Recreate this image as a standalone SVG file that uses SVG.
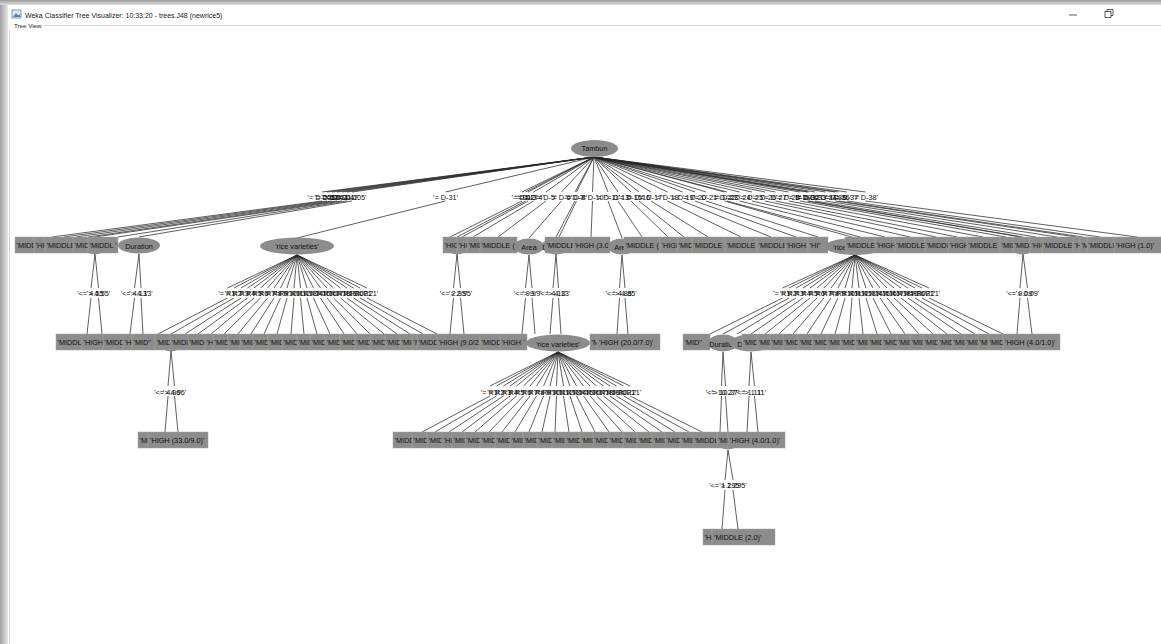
<svg xmlns="http://www.w3.org/2000/svg" width="1161" height="644" viewBox="0 0 1161 644">
<style>
  .n rect { fill:#8c8c8c; stroke:#a2a2a2; stroke-width:0.5; }
  .n ellipse { fill:#8c8c8c; }
  .n text { font-family:"Liberation Sans", Arial, sans-serif; font-size:7.3px; fill:#111; }
  .n .c { text-anchor:middle; }
  .e path { fill:none; stroke:#2a2a2a; stroke-width:0.75; }
  .el text { font-family:"Liberation Sans", Arial, sans-serif; font-size:7.3px; fill:#111; text-anchor:middle; }
  .chrome { font-family:"Liberation Sans", Arial, sans-serif; fill:#222; }
</style>
<defs>
  <linearGradient id="topShade" x1="0" y1="0" x2="0" y2="1">
    <stop offset="0" stop-color="#9c9c9c"/>
    <stop offset="1" stop-color="#dedede"/>
  </linearGradient>
  <linearGradient id="leftShade" x1="0" y1="0" x2="1" y2="0">
    <stop offset="0" stop-color="#a0a0a0"/>
    <stop offset="1" stop-color="#e6e6e6"/>
  </linearGradient>
</defs>

<!-- window frame -->
<rect x="0" y="0" width="1161" height="644" fill="#ffffff"/>
<rect x="0" y="0" width="1161" height="5" fill="url(#topShade)"/>
<rect x="0" y="5" width="8" height="639" fill="url(#leftShade)"/>
<line x1="9.5" y1="30" x2="9.5" y2="644" stroke="#d4d4d4" stroke-width="1"/>
<line x1="44" y1="25.5" x2="1161" y2="25.5" stroke="#d8d8d8" stroke-width="1"/>
<g id="title-icon">
  <rect x="12" y="10" width="9" height="8" fill="#dfe8f2" stroke="#6d89a8" stroke-width="0.8"/>
  <path d="M13 17 L16 13 L18 15.5 L20 14 L20.5 17 Z" fill="#5a7fa6"/>
</g>
<text class="chrome" x="25" y="17.5" font-size="7px">Weka Classifier Tree Visualizer: 10:33:20 - trees.J48 (newrice5)</text>
<text class="chrome" x="14" y="27.5" font-size="6.2px">Tree View</text>
<line x1="1069" y1="15" x2="1077" y2="15" stroke="#333" stroke-width="0.8"/>
<rect x="1105" y="11.5" width="6" height="6" fill="none" stroke="#333" stroke-width="0.8"/>
<path d="M1107 11.5 V9.5 H1113 V15.5 H1111" fill="none" stroke="#333" stroke-width="0.8"/>

<!-- connectors -->
<g id="connectors">
<g class="e">
  <!-- root: Tambun -->
  <path d="M594 157L322 192M322 201L52 237 M594 157L327 192M327 201L64 237 M594 157L332 192M332 201L76 237 M594 157L337 192M337 201L88 237 M594 157L342 192M342 201L95 237 M594 157L347 192M347 201L118 237 M594 157L352 192M352 201L139 237 M594 157L445.5 192M445.5 201L297 238
  M594 157L522 192M522 201L450 237 M594 157L525.5 192M525.5 201L457 237 M594 157L528 192M528 201L462 237 M594 157L533.5 192M533.5 201L473 237 M594 157L546 192M546 201L498 237 M594 157L561.5 192M561.5 201L529 238 M594 157L575 192M575 201L556 237 M594 157L576.5 192M576.5 201L559 237 M594 157L592.5 192M592.5 201L591 237 M594 157L608 192M608 201L622 238 M594 157L618 192M618 201L642 237 M594 157L631 192M631 201L668 237 M594 157L639 192M639 201L684 237 M594 157L651 192M651 201L708 237 M594 157L667.5 192M667.5 201L741 237 M594 157L682.5 192M682.5 201L771 237 M594 157L695 192M695 201L796 237 M594 157L706 192M706 201L818 237 M594 157L724.5 192M724.5 201L855 238 M594 157L727 192M727 201L860 237 M594 157L739.5 192M739.5 201L885 237 M594 157L752 192M752 201L910 237 M594 157L765 192M765 201L936 237 M594 157L775.5 192M775.5 201L957 237 M594 157L788.5 192M788.5 201L983 237 M594 157L800 192M800 201L1006 237 M594 157L807.5 192M807.5 201L1021 237 M594 157L808.5 192M808.5 201L1023 237 M594 157L815 192M815 201L1036 237 M594 157L825.5 192M825.5 201L1057 237 M594 157L835 192M835 201L1076 237 M594 157L838.5 192M838.5 201L1083 237 M594 157L847 192M847 201L1100 237 M594 157L865.5 192M865.5 201L1137 237"/>
  <!-- level 1 numeric splits -->
  <path d="M95 254L91 288M91 298L87 334 M95 254L98.5 288M98.5 298L102 334
  M139 254L134.5 288M134.5 298L130 334 M139 254L141 288M141 298L143 334
  M457 254L453.5 288M453.5 298L450 334 M457 254L460.5 288M460.5 298L464 334
  M529 255L525.5 288M525.5 298L522 334 M529 255L532 288M532 298L535 334
  M556 254L553 288M553 298L550 334 M556 254L558.5 288M558.5 298L561 334
  M622 255L619.5 288M619.5 298L617 334 M622 255L625 288M625 298L628 334
  M1023 254L1020 288M1020 298L1017 334 M1023 254L1027.5 288M1027.5 298L1032 334"/>
  <!-- level 1 'rice varieties' (left) -->
  <path d="M297 255L227.5 288M227.5 298L158 334 M297 255L234 288M234 298L171 334 M297 255L241 288M241 298L185 334 M297 255L247.5 288M247.5 298L198 334 M297 255L254 288M254 298L211 334 M297 255L260.5 288M260.5 298L224 334 M297 255L267.5 288M267.5 298L238 334 M297 255L274 288M274 298L251 334 M297 255L280.5 288M280.5 298L264 334 M297 255L287 288M287 298L277 334 M297 255L294 288M294 298L291 334 M297 255L300.5 288M300.5 298L304 334 M297 255L307 288M307 298L317 334 M297 255L313.5 288M313.5 298L330 334 M297 255L320.5 288M320.5 298L344 334 M297 255L327 288M327 298L357 334 M297 255L333.5 288M333.5 298L370 334 M297 255L340.5 288M340.5 298L384 334 M297 255L347 288M347 298L397 334 M297 255L353.5 288M353.5 298L410 334 M297 255L360 288M360 298L423 334 M297 255L367 288M367 298L437 334"/>
  <!-- level 1 'rice varieties' (right) -->
  <path d="M855 255L782.5 288M782.5 298L710 334 M855 255L789 288M789 298L723 334 M855 255L796 288M796 298L737 334 M855 255L803 288M803 298L751 334 M855 255L810 288M810 298L765 334 M855 255L817 288M817 298L779 334 M855 255L824 288M824 298L793 334 M855 255L831 288M831 298L807 334 M855 255L838 288M838 298L821 334 M855 255L845 288M845 298L835 334 M855 255L852 288M852 298L849 334 M855 255L859 288M859 298L863 334 M855 255L866 288M866 298L877 334 M855 255L873 288M873 298L891 334 M855 255L880 288M880 298L905 334 M855 255L887 288M887 298L919 334 M855 255L894 288M894 298L933 334 M855 255L901 288M901 298L947 334 M855 255L908 288M908 298L961 334 M855 255L915 288M915 298L975 334 M855 255L922 288M922 298L989 334 M855 255L929 288M929 298L1003 334"/>
  <!-- level 2 numeric splits -->
  <path d="M171 351L168 386M168 396L165 432 M171 351L174.5 386M174.5 396L178 432
  M723 352L721.5 386M721.5 396L720 432 M723 352L725.5 386M725.5 396L728 432
  M751 352L749 386M749 396L747 432 M751 352L754.5 386M754.5 396L758 432"/>
  <!-- level 2 'rice varieties' -->
  <path d="M558 352L490 386M490 396L422 432 M558 352L496.5 386M496.5 396L435 432 M558 352L503.5 386M503.5 396L449 432 M558 352L510 386M510 396L462 432 M558 352L516.5 386M516.5 396L475 432 M558 352L523.5 386M523.5 396L489 432 M558 352L530 386M530 396L502 432 M558 352L536.5 386M536.5 396L515 432 M558 352L543.5 386M543.5 396L529 432 M558 352L550 386M550 396L542 432 M558 352L556.5 386M556.5 396L555 432 M558 352L563.5 386M563.5 396L569 432 M558 352L570 386M570 396L582 432 M558 352L576.5 386M576.5 396L595 432 M558 352L583.5 386M583.5 396L609 432 M558 352L590 386M590 396L622 432 M558 352L596.5 386M596.5 396L635 432 M558 352L603.5 386M603.5 396L649 432 M558 352L610 386M610 396L662 432 M558 352L616.5 386M616.5 396L675 432 M558 352L623.5 386M623.5 396L689 432 M558 352L630 386M630 396L702 432"/>
  <!-- level 3 numeric split -->
  <path d="M728 450L725 480M725 490L722 529 M728 450L733 480M733 490L738 529"/>
</g>
<g class="el">
  <text x="322" y="199.5">'= D-205'</text><text x="327" y="199.5">'= D-12'</text><text x="332" y="199.5">'= D-9'</text><text x="337" y="199.5">'= D-14'</text><text x="342" y="199.5">'= D-211'</text><text x="347" y="199.5">'= D-47'</text><text x="352" y="199.5">'= D-105'</text>
  <text x="445.5" y="199.5">'= D-31'</text>
  <text x="522" y="199.5">'= D-1'</text><text x="525.5" y="199.5">'= D-2'</text><text x="528" y="199.5">'= D-3'</text><text x="533.5" y="199.5">'= D-4'</text><text x="546" y="199.5">'= D-5'</text><text x="561.5" y="199.5">'= D-6'</text><text x="575" y="199.5">'= D-7'</text><text x="576.5" y="199.5">'= D-8'</text><text x="592.5" y="199.5">'= D-10'</text><text x="608" y="199.5">'= D-11'</text><text x="618" y="199.5">'= D-13'</text><text x="631" y="199.5">'= D-15'</text><text x="639" y="199.5">'= D-16'</text><text x="651" y="199.5">'= D-17'</text><text x="667.5" y="199.5">'= D-18'</text><text x="682.5" y="199.5">'= D-19'</text><text x="695" y="199.5">'= D-20'</text><text x="706" y="199.5">'= D-21'</text><text x="724.5" y="199.5">'= D-22'</text><text x="727" y="199.5">'= D-23'</text><text x="739.5" y="199.5">'= D-24'</text><text x="752" y="199.5">'= D-25'</text><text x="765" y="199.5">'= D-26'</text><text x="775.5" y="199.5">'= D-27'</text><text x="788.5" y="199.5">'= D-28'</text><text x="800" y="199.5">'= D-29'</text><text x="807.5" y="199.5">'= D-30'</text><text x="808.5" y="199.5">'= D-32'</text><text x="815" y="199.5">'= D-33'</text><text x="825.5" y="199.5">'= D-34'</text><text x="835" y="199.5">'= D-35'</text><text x="838.5" y="199.5">'= D-36'</text><text x="847" y="199.5">'= D-37'</text><text x="865.5" y="199.5">'= D-38'</text>

  <text x="91" y="296">'&lt;= 4.55'</text><text x="98.5" y="296">'&gt; 4.55'</text>
  <text x="134.5" y="296">'&lt;= 4.13'</text><text x="141" y="296">'&gt; 4.13'</text>
  <text x="453.5" y="296">'&lt;= 2.95'</text><text x="460.5" y="296">'&gt; 2.95'</text>
  <text x="525.5" y="296">'&lt;= 9.9'</text><text x="532" y="296">'&gt; 9.9'</text>
  <text x="553" y="296">'&lt;= 4.13'</text><text x="558.5" y="296">'&gt; 4.13'</text>
  <text x="619.5" y="296">'&lt;= 4.85'</text><text x="625" y="296">'&gt; 4.85'</text>
  <text x="1020" y="296">'&lt;= 0.09'</text><text x="1027.5" y="296">'&gt; 0.09'</text>

  <text x="227.5" y="296">'= R1'</text><text x="234" y="296">'= R2'</text><text x="241" y="296">'= R3'</text><text x="247.5" y="296">'= R4'</text><text x="254" y="296">'= R5'</text><text x="260.5" y="296">'= R6'</text><text x="267.5" y="296">'= R7'</text><text x="274" y="296">'= R8'</text><text x="280.5" y="296">'= R9'</text><text x="287" y="296">'= R10'</text><text x="294" y="296">'= R11'</text><text x="300.5" y="296">'= R12'</text><text x="307" y="296">'= R13'</text><text x="313.5" y="296">'= R14'</text><text x="320.5" y="296">'= R15'</text><text x="327" y="296">'= R16'</text><text x="333.5" y="296">'= R17'</text><text x="340.5" y="296">'= R18'</text><text x="347" y="296">'= R19'</text><text x="353.5" y="296">'= R20'</text><text x="360" y="296">'= R021'</text><text x="367" y="296">'= R21'</text>

  <text x="782.5" y="296">'= R1'</text><text x="789" y="296">'= R2'</text><text x="796" y="296">'= R3'</text><text x="803" y="296">'= R4'</text><text x="810" y="296">'= R5'</text><text x="817" y="296">'= R6'</text><text x="824" y="296">'= R7'</text><text x="831" y="296">'= R8'</text><text x="838" y="296">'= R9'</text><text x="845" y="296">'= R10'</text><text x="852" y="296">'= R11'</text><text x="859" y="296">'= R12'</text><text x="866" y="296">'= R13'</text><text x="873" y="296">'= R14'</text><text x="880" y="296">'= R15'</text><text x="887" y="296">'= R16'</text><text x="894" y="296">'= R17'</text><text x="901" y="296">'= R18'</text><text x="908" y="296">'= R19'</text><text x="915" y="296">'= R20'</text><text x="922" y="296">'= R021'</text><text x="929" y="296">'= R21'</text>

  <text x="168" y="394.5">'&lt;= 4.96'</text><text x="174.5" y="394.5">'&gt; 4.96'</text>
  <text x="721.5" y="394.5">'&lt;= 10.27'</text><text x="725.5" y="394.5">'&gt; 10.27'</text>
  <text x="749" y="394.5">'&lt;= 1.11'</text><text x="754.5" y="394.5">'&gt; 1.11'</text>

  <text x="490" y="394.5">'= R1'</text><text x="496.5" y="394.5">'= R2'</text><text x="503.5" y="394.5">'= R3'</text><text x="510" y="394.5">'= R4'</text><text x="516.5" y="394.5">'= R5'</text><text x="523.5" y="394.5">'= R6'</text><text x="530" y="394.5">'= R7'</text><text x="536.5" y="394.5">'= R8'</text><text x="543.5" y="394.5">'= R9'</text><text x="550" y="394.5">'= R10'</text><text x="556.5" y="394.5">'= R11'</text><text x="563.5" y="394.5">'= R12'</text><text x="570" y="394.5">'= R13'</text><text x="576.5" y="394.5">'= R14'</text><text x="583.5" y="394.5">'= R15'</text><text x="590" y="394.5">'= R16'</text><text x="596.5" y="394.5">'= R17'</text><text x="603.5" y="394.5">'= R18'</text><text x="610" y="394.5">'= R19'</text><text x="616.5" y="394.5">'= R20'</text><text x="623.5" y="394.5">'= R021'</text><text x="630" y="394.5">'= R21'</text>

  <text x="725" y="487.5">'&lt;= 1.295'</text><text x="733" y="487.5">'&gt; 1.295'</text>
</g>
</g>

<!-- root -->
<g id="root" class="n"><ellipse cx="594.5" cy="148.5" rx="23.5" ry="8.5"/><text class="c" x="594.5" y="151">Tambun</text></g>

<!-- level 1 -->
<g id="level1">
<g id="l1-a" class="n"><ellipse cx="95" cy="246" rx="12" ry="8.5"/></g>
<g id="l1-b" class="n"><ellipse cx="457" cy="246" rx="12" ry="8.5"/></g>
<g id="l1-d" class="n"><ellipse cx="1023" cy="246" rx="12" ry="8.5"/></g>
<g id="l1-01" class="n"><rect x="15" y="237" width="19" height="16"/><text x="16.5" y="247.5">'MIDDL</text></g>
<g id="l1-02" class="n"><rect x="34" y="237" width="11" height="16"/><text x="35.5" y="247.5">'HIG</text></g>
<g id="l1-03" class="n"><rect x="45" y="237" width="28" height="16"/><text x="46.5" y="247.5">'MIDDLE</text></g>
<g id="l1-04" class="n"><rect x="73" y="237" width="15" height="16"/><text x="74.5" y="247.5">'MIDD</text></g>
<g id="l1-05" class="n"><rect x="88" y="237" width="30" height="16"/><text x="89.5" y="247.5">'MIDDL '</text></g>
<g id="l1-06" class="n"><ellipse cx="139" cy="245.5" rx="21" ry="8"/><text class="c" x="139" y="248.5">Duration</text></g>
<g id="l1-07" class="n"><ellipse cx="297" cy="246" rx="37" ry="8.5"/><text class="c" x="297" y="249">'rice varieties'</text></g>
<g id="l1-08" class="n"><rect x="443" y="237" width="14" height="16"/><text x="444.5" y="247.5">'HIGH</text></g>
<g id="l1-09" class="n"><rect x="457" y="237" width="10" height="16"/><text x="458.5" y="247.5">'HI</text></g>
<g id="l1-10" class="n"><rect x="467" y="237" width="13" height="16"/><text x="468.5" y="247.5">'MID</text></g>
<g id="l1-11" class="n"><rect x="480" y="237" width="37" height="16"/><text x="481.5" y="247.5">'MIDDLE (2</text></g>
<g id="l1-12" class="n"><ellipse cx="529" cy="246.5" rx="15" ry="8"/><text class="c" x="529" y="250">Area</text></g>
<g id="l1-13" class="n"><ellipse cx="556" cy="246" rx="14" ry="8.5"/><text class="c" x="556" y="249.5">Duration</text></g>
<g id="l1-14" class="n"><rect x="545" y="237" width="28" height="16"/><text x="546.5" y="247.5">'MIDDLE</text></g>
<g id="l1-15" class="n"><rect x="573" y="237" width="37" height="16"/><text x="574.5" y="247.5">'HIGH (3.0/1</text></g>
<g id="l1-16" class="n"><ellipse cx="622" cy="246.5" rx="14" ry="8"/><text class="c" x="622" y="250">Area</text></g>
<g id="l1-17" class="n"><rect x="624" y="237" width="36" height="16"/><text x="625.5" y="247.5">'MIDDLE (</text></g>
<g id="l1-18" class="n"><rect x="660" y="237" width="17" height="16"/><text x="661.5" y="247.5">'HIGH</text></g>
<g id="l1-19" class="n"><rect x="677" y="237" width="15" height="16"/><text x="678.5" y="247.5">'MIDD</text></g>
<g id="l1-20" class="n"><rect x="692" y="237" width="33" height="16"/><text x="693.5" y="247.5">'MIDDLE (3</text></g>
<g id="l1-21" class="n"><rect x="725" y="237" width="32" height="16"/><text x="726.5" y="247.5">'MIDDLE</text></g>
<g id="l1-22" class="n"><rect x="757" y="237" width="28" height="16"/><text x="758.5" y="247.5">'MIDDLE</text></g>
<g id="l1-23" class="n"><rect x="785" y="237" width="23" height="16"/><text x="786.5" y="247.5">'HIGH (1</text></g>
<g id="l1-24" class="n"><rect x="808" y="237" width="20" height="16"/><text x="809.5" y="247.5">'HI''</text></g>
<g id="l1-25" class="n"><ellipse cx="855" cy="246.5" rx="30" ry="8.5"/><text class="c" x="855" y="250">'rice varieties'</text></g>
<g id="l1-26" class="n"><rect x="845" y="237" width="30" height="16"/><text x="846.5" y="247.5">'MIDDLE</text></g>
<g id="l1-27" class="n"><rect x="875" y="237" width="20" height="16"/><text x="876.5" y="247.5">'HIGH (</text></g>
<g id="l1-28" class="n"><rect x="895" y="237" width="30" height="16"/><text x="896.5" y="247.5">'MIDDLE</text></g>
<g id="l1-29" class="n"><rect x="925" y="237" width="23" height="16"/><text x="926.5" y="247.5">'MIDDL</text></g>
<g id="l1-30" class="n"><rect x="948" y="237" width="19" height="16"/><text x="949.5" y="247.5">'HIGH</text></g>
<g id="l1-31" class="n"><rect x="967" y="237" width="33" height="16"/><text x="968.5" y="247.5">'MIDDLE ('</text></g>
<g id="l1-32" class="n"><rect x="1000" y="237" width="13" height="16"/><text x="1001.5" y="247.5">'MID</text></g>
<g id="l1-33" class="n"><rect x="1013" y="237" width="17" height="16"/><text x="1014.5" y="247.5">'MIDD</text></g>
<g id="l1-34" class="n"><rect x="1030" y="237" width="12" height="16"/><text x="1031.5" y="247.5">'HIG</text></g>
<g id="l1-35" class="n"><rect x="1042" y="237" width="31" height="16"/><text x="1043.5" y="247.5">'MIDDLE</text></g>
<g id="l1-36" class="n"><rect x="1073" y="237" width="7" height="16"/><text x="1074.5" y="247.5">'HI</text></g>
<g id="l1-37" class="n"><rect x="1080" y="237" width="7" height="16"/><text x="1081.5" y="247.5">'MI</text></g>
<g id="l1-38" class="n"><rect x="1087" y="237" width="27" height="16"/><text x="1088.5" y="247.5">'MIDDLE</text></g>
<g id="l1-39" class="n"><rect x="1114" y="237" width="48" height="16"/><text x="1116" y="247.5">'HIGH (1.0)'</text></g>
</g>

<!-- level 2 -->
<g id="level2">
<g id="l2-e" class="n"><ellipse cx="171" cy="343" rx="12" ry="8.5"/></g>
<g id="l2-01" class="n"><rect x="56" y="334" width="26" height="16"/><text x="57.5" y="344.5">'MIDDLE</text></g>
<g id="l2-02" class="n"><rect x="82" y="334" width="21" height="16"/><text x="83.5" y="344.5">'HIGH (</text></g>
<g id="l2-03" class="n"><rect x="103" y="334" width="20" height="16"/><text x="104.5" y="344.5">'MIDDL</text></g>
<g id="l2-04" class="n"><rect x="123" y="334" width="9" height="16"/><text x="124.5" y="344.5">'HI</text></g>
<g id="l2-05" class="n"><rect x="132" y="334" width="23" height="16"/><text x="133.5" y="344.5">'MID''</text></g>
<g id="l2-06" class="n"><rect x="155" y="334" width="15" height="16"/><text x="156.5" y="344.5">'MIDD</text></g>
<g id="l2-07" class="n"><rect x="170" y="334" width="18" height="16"/><text x="171.5" y="344.5">'MIDDL</text></g>
<g id="l2-08" class="n"><rect x="188" y="334" width="17" height="16"/><text x="189.5" y="344.5">'MIDD</text></g>
<g id="l2-09" class="n"><rect x="205" y="334" width="8" height="16"/><text x="206.5" y="344.5">'HI</text></g>
<g id="l2-10" class="n"><rect x="213" y="334" width="15" height="16"/><text x="214.5" y="344.5">'MID</text></g>
<g id="l2-11" class="n"><rect x="228" y="334" width="12" height="16"/><text x="229.5" y="344.5">'MID</text></g>
<g id="l2-12" class="n"><rect x="240" y="334" width="13" height="16"/><text x="241.5" y="344.5">'MID</text></g>
<g id="l2-13" class="n"><rect x="253" y="334" width="15" height="16"/><text x="254.5" y="344.5">'MID</text></g>
<g id="l2-14" class="n"><rect x="268" y="334" width="14" height="16"/><text x="269.5" y="344.5">'MID</text></g>
<g id="l2-15" class="n"><rect x="282" y="334" width="15" height="16"/><text x="283.5" y="344.5">'MID</text></g>
<g id="l2-16" class="n"><rect x="297" y="334" width="13" height="16"/><text x="298.5" y="344.5">'MID</text></g>
<g id="l2-17" class="n"><rect x="310" y="334" width="15" height="16"/><text x="311.5" y="344.5">'MID</text></g>
<g id="l2-18" class="n"><rect x="325" y="334" width="15" height="16"/><text x="326.5" y="344.5">'MID</text></g>
<g id="l2-19" class="n"><rect x="340" y="334" width="15" height="16"/><text x="341.5" y="344.5">'MID</text></g>
<g id="l2-20" class="n"><rect x="355" y="334" width="15" height="16"/><text x="356.5" y="344.5">'MID</text></g>
<g id="l2-21" class="n"><rect x="370" y="334" width="15" height="16"/><text x="371.5" y="344.5">'MID</text></g>
<g id="l2-22" class="n"><rect x="385" y="334" width="15" height="16"/><text x="386.5" y="344.5">'MID</text></g>
<g id="l2-23" class="n"><rect x="400" y="334" width="12" height="16"/><text x="401.5" y="344.5">'MID</text></g>
<g id="l2-24" class="n"><rect x="412" y="334" width="5" height="16"/><text x="413.5" y="344.5">'M</text></g>
<g id="l2-25" class="n"><rect x="417" y="334" width="20" height="16"/><text x="418.5" y="344.5">'MIDDL</text></g>
<g id="l2-26" class="n"><rect x="437" y="334" width="43" height="16"/><text x="438.5" y="344.5">'HIGH (9.0/2.0)</text></g>
<g id="l2-27" class="n"><rect x="480" y="334" width="20" height="16"/><text x="481.5" y="344.5">'MIDDL</text></g>
<g id="l2-28" class="n"><rect x="500" y="334" width="27" height="16"/><text x="501.5" y="344.5">'HIGH '</text></g>
<g id="l2-29" class="n"><ellipse cx="558" cy="343" rx="32" ry="8.5"/><text class="c" x="558" y="346.5">'rice varieties'</text></g>
<g id="l2-30" class="n"><rect x="590" y="334" width="7" height="16"/><text x="591.5" y="344.5">'MI</text></g>
<g id="l2-31" class="n"><rect x="597" y="334" width="63" height="16"/><text x="599" y="344.5">'HIGH (20.0/7.0)'</text></g>
<g id="l2-32" class="n"><rect x="683" y="334" width="27" height="16"/><text x="684.5" y="344.5">'MID''</text></g>
<g id="l2-33" class="n"><ellipse cx="723" cy="343" rx="15" ry="8.5"/><text class="c" x="723" y="346.5">Duration</text></g>
<g id="l2-f" class="n"><ellipse cx="751" cy="343" rx="21" ry="8.5"/><text class="c" x="751" y="346.5">Duration</text></g>
<g id="l2-34" class="n"><rect x="742" y="334" width="15" height="16"/><text x="743.5" y="344.5">'MID</text></g>
<g id="l2-35" class="n"><rect x="757" y="334" width="13" height="16"/><text x="758.5" y="344.5">'MID</text></g>
<g id="l2-36" class="n"><rect x="770" y="334" width="13" height="16"/><text x="771.5" y="344.5">'MID</text></g>
<g id="l2-37" class="n"><rect x="783" y="334" width="15" height="16"/><text x="784.5" y="344.5">'MID</text></g>
<g id="l2-38" class="n"><rect x="798" y="334" width="14" height="16"/><text x="799.5" y="344.5">'MID</text></g>
<g id="l2-39" class="n"><rect x="812" y="334" width="15" height="16"/><text x="813.5" y="344.5">'MID</text></g>
<g id="l2-40" class="n"><rect x="827" y="334" width="13" height="16"/><text x="828.5" y="344.5">'MID</text></g>
<g id="l2-41" class="n"><rect x="840" y="334" width="15" height="16"/><text x="841.5" y="344.5">'MID</text></g>
<g id="l2-42" class="n"><rect x="855" y="334" width="13" height="16"/><text x="856.5" y="344.5">'MID</text></g>
<g id="l2-43" class="n"><rect x="868" y="334" width="14" height="16"/><text x="869.5" y="344.5">'MID</text></g>
<g id="l2-44" class="n"><rect x="882" y="334" width="15" height="16"/><text x="883.5" y="344.5">'MID</text></g>
<g id="l2-45" class="n"><rect x="897" y="334" width="13" height="16"/><text x="898.5" y="344.5">'MID</text></g>
<g id="l2-46" class="n"><rect x="910" y="334" width="13" height="16"/><text x="911.5" y="344.5">'MID</text></g>
<g id="l2-47" class="n"><rect x="923" y="334" width="15" height="16"/><text x="924.5" y="344.5">'MID</text></g>
<g id="l2-48" class="n"><rect x="938" y="334" width="14" height="16"/><text x="939.5" y="344.5">'MID</text></g>
<g id="l2-49" class="n"><rect x="952" y="334" width="13" height="16"/><text x="953.5" y="344.5">'MID</text></g>
<g id="l2-50" class="n"><rect x="965" y="334" width="13" height="16"/><text x="966.5" y="344.5">'MID</text></g>
<g id="l2-51" class="n"><rect x="978" y="334" width="10" height="16"/><text x="979.5" y="344.5">'MI</text></g>
<g id="l2-52" class="n"><rect x="988" y="334" width="15" height="16"/><text x="989.5" y="344.5">'MIDD</text></g>
<g id="l2-53" class="n"><rect x="1003" y="334" width="57" height="16"/><text x="1005" y="344.5">'HIGH (4.0/1.0)'</text></g>
</g>

<!-- level 3 -->
<g id="level3">
<g id="l3-g" class="n"><ellipse cx="728" cy="441" rx="12" ry="8.5"/></g>
<g id="l3-01" class="n"><rect x="138" y="432" width="10" height="16"/><text x="139.5" y="442.5">'MID</text></g>
<g id="l3-02" class="n"><rect x="148" y="432" width="60" height="16"/><text x="150" y="442.5">'HIGH (33.0/9.0)'</text></g>
<g id="l3-03" class="n"><rect x="393" y="432" width="19" height="16"/><text x="394.5" y="442.5">'MIDD</text></g>
<g id="l3-04" class="n"><rect x="412" y="432" width="15" height="16"/><text x="413.5" y="442.5">'MID</text></g>
<g id="l3-05" class="n"><rect x="427" y="432" width="15" height="16"/><text x="428.5" y="442.5">'MIDD</text></g>
<g id="l3-06" class="n"><rect x="442" y="432" width="10" height="16"/><text x="443.5" y="442.5">'HI</text></g>
<g id="l3-07" class="n"><rect x="452" y="432" width="13" height="16"/><text x="453.5" y="442.5">'MID</text></g>
<g id="l3-08" class="n"><rect x="465" y="432" width="15" height="16"/><text x="466.5" y="442.5">'MID</text></g>
<g id="l3-09" class="n"><rect x="480" y="432" width="15" height="16"/><text x="481.5" y="442.5">'MID</text></g>
<g id="l3-10" class="n"><rect x="495" y="432" width="15" height="16"/><text x="496.5" y="442.5">'MID</text></g>
<g id="l3-11" class="n"><rect x="510" y="432" width="13" height="16"/><text x="511.5" y="442.5">'MID</text></g>
<g id="l3-12" class="n"><rect x="523" y="432" width="14" height="16"/><text x="524.5" y="442.5">'MID</text></g>
<g id="l3-13" class="n"><rect x="537" y="432" width="15" height="16"/><text x="538.5" y="442.5">'MID</text></g>
<g id="l3-14" class="n"><rect x="552" y="432" width="13" height="16"/><text x="553.5" y="442.5">'MID</text></g>
<g id="l3-15" class="n"><rect x="565" y="432" width="15" height="16"/><text x="566.5" y="442.5">'MID</text></g>
<g id="l3-16" class="n"><rect x="580" y="432" width="13" height="16"/><text x="581.5" y="442.5">'MID</text></g>
<g id="l3-17" class="n"><rect x="593" y="432" width="15" height="16"/><text x="594.5" y="442.5">'MID</text></g>
<g id="l3-18" class="n"><rect x="608" y="432" width="15" height="16"/><text x="609.5" y="442.5">'MID</text></g>
<g id="l3-19" class="n"><rect x="623" y="432" width="14" height="16"/><text x="624.5" y="442.5">'MID</text></g>
<g id="l3-20" class="n"><rect x="637" y="432" width="15" height="16"/><text x="638.5" y="442.5">'MID</text></g>
<g id="l3-21" class="n"><rect x="652" y="432" width="13" height="16"/><text x="653.5" y="442.5">'MID</text></g>
<g id="l3-22" class="n"><rect x="665" y="432" width="15" height="16"/><text x="666.5" y="442.5">'MID</text></g>
<g id="l3-23" class="n"><rect x="680" y="432" width="13" height="16"/><text x="681.5" y="442.5">'MID</text></g>
<g id="l3-24" class="n"><rect x="693" y="432" width="24" height="16"/><text x="694.5" y="442.5">'MIDDLE</text></g>
<g id="l3-25" class="n"><rect x="717" y="432" width="11" height="16"/><text x="718.5" y="442.5">'MID</text></g>
<g id="l3-26" class="n"><rect x="728" y="432" width="57" height="16"/><text x="730" y="442.5">'HIGH (4.0/1.0)'</text></g>
</g>

<!-- level 4 -->
<g id="level4">
<g id="l4-01" class="n"><rect x="703" y="529" width="9" height="16"/><text x="704.5" y="539.5">'HI</text></g>
<g id="l4-02" class="n"><rect x="712" y="529" width="63" height="16"/><text x="714" y="539.5">'MIDDLE (2.0)'</text></g>
</g>
</svg>
